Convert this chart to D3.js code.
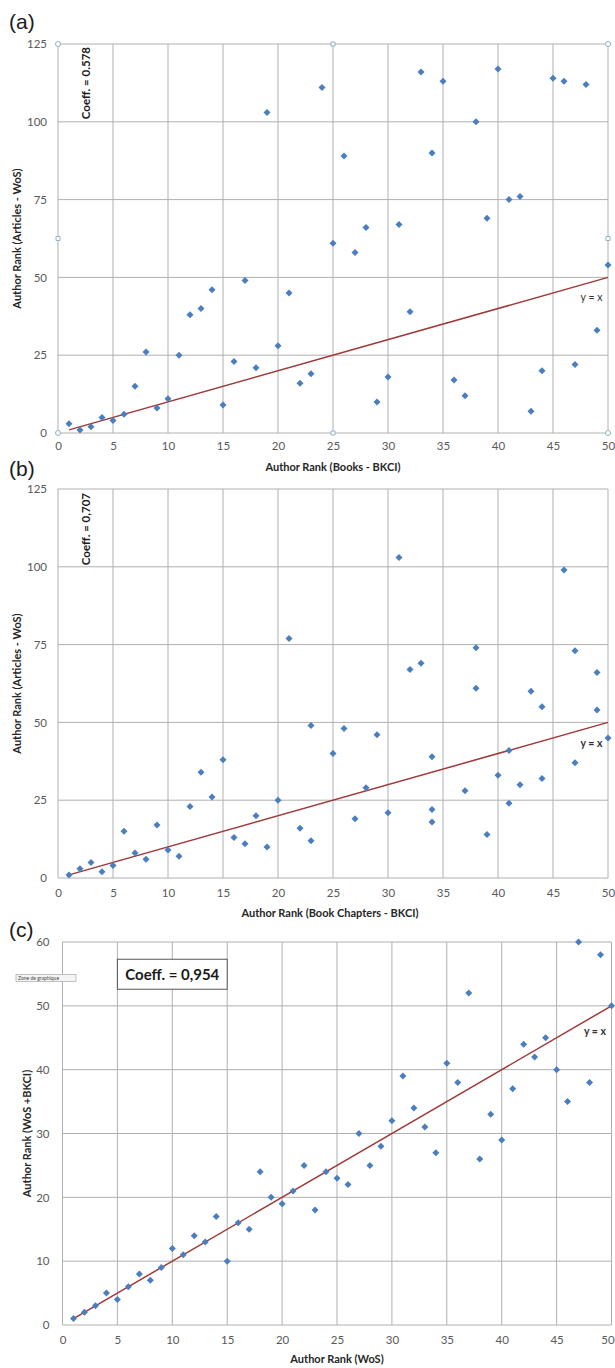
<!DOCTYPE html>
<html>
<head>
<meta charset="utf-8">
<script src="https://cdn.jsdelivr.net/npm/d3@7"></script>
<style>
  html, body { margin: 0; padding: 0; background: #fff; }
  svg { display: block; }
  text { font-family: Lato, "Open Sans", "DejaVu Sans", sans-serif; }
</style>
</head>
<body>
<svg id="chart" width="615" height="1368"></svg>
<script>
// ---------- data ----------
const xTicks = [0, 5, 10, 15, 20, 25, 30, 35, 40, 45, 50];
const yTicksAB = [0, 25, 50, 75, 100, 125];
const yTicksC = [0, 10, 20, 30, 40, 50, 60];

// Panel (a): Books - BKCI vs Articles - WoS
const aX = [1,2,3,4,5,6,7,8,9,10,11,12,13,14,15,16,17,18,19,20,21,22,23,24,25,26,27,28,29,30,31,32,33,34,35,36,37,38,39,40,41,42,43,44,45,46,47,48,49,50];
const aY = [3,1,2,5,4,6,15,26,8,11,25,38,40,46,9,23,49,21,103,28,45,16,19,111,61,89,58,66,10,18,67,39,116,90,113,17,12,100,69,117,75,76,7,20,114,113,22,112,33,54];

// Panel (b): Book Chapters - BKCI vs Articles - WoS
const bX = [1,2,3,4,5,6,7,8,9,10,11,12,13,14,15,16,17,18,19,20,21,22,23,23,25,26,27,28,29,30,31,32,33,34,34,34,37,38,38,39,40,41,41,42,43,44,44,46,47,47,49,49,50];
const bY = [1,3,5,2,4,15,8,6,17,9,7,23,34,26,38,13,11,20,10,25,77,16,12,49,40,48,19,29,46,21,103,67,69,39,22,18,28,61,74,14,33,41,24,30,60,55,32,99,37,73,66,54,45];

// Panel (c): WoS vs WoS + BKCI
const cX = [1,2,3,4,5,6,7,8,9,10,11,12,13,14,15,16,17,18,19,20,21,22,23,24,25,26,27,28,29,30,31,32,33,34,35,36,37,38,39,40,41,42,43,44,45,46,47,48,49,50];
const cY = [1,2,3,5,4,6,8,7,9,12,11,14,13,17,10,16,15,24,20,19,21,25,18,24,23,22,30,25,28,32,39,34,31,27,41,38,52,26,33,29,37,44,42,45,40,35,60,38,58,50];

const panelLabels = ["(a)", "(b)", "(c)"];
const xTitles = ["Author Rank (Books - BKCI)", "Author Rank (Book Chapters - BKCI)", "Author Rank (WoS)"];
const yTitles = ["Author Rank (Articles - WoS)", "Author Rank (Articles - WoS)", "Author Rank (WoS +BKCI)"];
const coeffTexts = ["Coeff. = 0.578", "Coeff. = 0,707", "Coeff. = 0,954"];
const lineLabel = "y = x";
const refLine = [1, 50];

// ---------- drawing ----------
const svg = d3.select("#chart");
const GRID = "#b0b0b0";
const TICK = "#595959";
const DOT = "#4a7ebf";
const LINE = "#9e3a38";

function diamond(cx, cy, r) {
  return `M${cx},${cy - r}L${cx + r},${cy}L${cx},${cy + r}L${cx - r},${cy}Z`;
}

function panel(cfg) {
  const g = svg.append("g");
  const x = d3.scaleLinear().domain([0, 50]).range([cfg.left, cfg.right]);
  const y = d3.scaleLinear().domain([0, cfg.yMax]).range([cfg.bottom, cfg.top]);

  // gridlines
  g.append("g").selectAll("line.v").data(xTicks).join("line")
    .attr("x1", d => x(d)).attr("x2", d => x(d))
    .attr("y1", cfg.top).attr("y2", cfg.bottom)
    .attr("stroke", GRID).attr("stroke-width", 1);
  g.append("g").selectAll("line.h").data(cfg.yTicks).join("line")
    .attr("y1", d => y(d)).attr("y2", d => y(d))
    .attr("x1", cfg.left).attr("x2", cfg.right)
    .attr("stroke", GRID).attr("stroke-width", 1);

  // tick labels via axes
  const xAxis = d3.axisBottom(x).tickValues(xTicks).tickSize(0).tickPadding(cfg.xPad);
  const gx = g.append("g").attr("transform", `translate(0,${cfg.bottom})`).call(xAxis);
  gx.select(".domain").remove();
  gx.selectAll("text").attr("fill", TICK).style("font-size", "11.5px").style("font-family", "Lato, sans-serif");
  // keep the last label inside the page edge
  gx.selectAll(".tick").filter(d => d === 50).select("text").attr("dx", cfg.lastDx);

  const yAxis = d3.axisLeft(y).tickValues(cfg.yTicks).tickSize(0).tickPadding(cfg.yPad);
  const gy = g.append("g").attr("transform", `translate(${cfg.left},0)`).call(yAxis);
  gy.select(".domain").remove();
  gy.selectAll("text").attr("fill", TICK).style("font-size", "11.5px").style("font-family", "Lato, sans-serif");

  // titles
  g.append("text").attr("x", (cfg.left + cfg.right) / 2 + cfg.xTitleDx).attr("y", cfg.xTitleY)
    .attr("text-anchor", "middle").attr("font-weight", "bold").attr("font-size", 11)
    .attr("fill", "#262626").text(cfg.xTitle);
  g.append("text")
    .attr("transform", `translate(${cfg.yTitleX},${(cfg.top + cfg.bottom) / 2}) rotate(-90)`)
    .attr("text-anchor", "middle").attr("font-weight", "bold").attr("font-size", 11)
    .attr("fill", "#262626").text(cfg.yTitle);

  // panel letter
  g.append("text").attr("x", 9).attr("y", cfg.labelY)
    .style("font-family", "'Liberation Sans', Arial, sans-serif")
    .attr("font-size", 21).attr("fill", "#1a1a1a").text(cfg.label);

  // reference line y = x
  g.append("line")
    .attr("x1", x(refLine[0])).attr("y1", y(refLine[0]))
    .attr("x2", x(refLine[1])).attr("y2", y(refLine[1]))
    .attr("stroke", LINE).attr("stroke-width", 1.5);

  // points
  g.append("g").selectAll("path").data(cfg.xs.map((v, i) => [v, cfg.ys[i]])).join("path")
    .attr("d", d => diamond(x(d[0]), y(d[1]), 3.5))
    .attr("fill", DOT);

  // y = x label
  g.append("text").attr("x", x(48.5)).attr("y", y(cfg.lineLabelY))
    .attr("text-anchor", "middle").attr("font-size", 10.5).attr("font-weight", cfg.lineLabelBold ? "bold" : "normal")
    .attr("fill", "#333").text(lineLabel);

  return { g, x, y };
}

// Panel (a)
const pa = panel({ left: 58, right: 608, top: 44, bottom: 433, yMax: 125, yTicks: yTicksAB,
  xs: aX, ys: aY, xTitle: xTitles[0], yTitle: yTitles[0], label: panelLabels[0], labelY: 29,
  xTitleY: 471, xTitleDx: 0, yTitleX: 21, xPad: 9, yPad: 11, lineLabelY: 42.5, lineLabelBold: false, lastDx: 0 });
// Coeff (a), rotated
pa.g.append("text").attr("transform", `translate(${89.5},${47}) rotate(-90)`)
  .attr("text-anchor", "end").attr("font-weight", "bold").attr("font-size", 11.5)
  .attr("fill", "#1a1a1a").text(coeffTexts[0]);
// selection handles (a)
const handles = [[0, 0, "c"], [50, 0, "c"], [0, 125, "c"], [50, 125, "c"], [25, 0, "s"], [25, 125, "s"], [0, 62.5, "s"], [50, 62.5, "s"]];
pa.g.append("g").selectAll("path").data(handles).join("path")
  .attr("d", d => {
    const cx = pa.x(d[0]), cy = pa.y(d[1]);
    return d[2] === "c"
      ? `M${cx - 2.5},${cy}a2.5,2.5 0 1,0 5,0a2.5,2.5 0 1,0 -5,0`
      : `M${cx - 2},${cy - 2}h4v4h-4Z`;
  })
  .attr("fill", "#fff").attr("stroke", "#8fb4c4").attr("stroke-width", 1);

// Panel (b)
const pb = panel({ left: 58, right: 608, top: 489, bottom: 878, yMax: 125, yTicks: yTicksAB,
  xs: bX, ys: bY, xTitle: xTitles[1], yTitle: yTitles[1], label: panelLabels[1], labelY: 476,
  xTitleY: 917, xTitleDx: -3, yTitleX: 21, xPad: 11, yPad: 11, lineLabelY: 42, lineLabelBold: true, lastDx: 0 });
pb.g.append("text").attr("transform", `translate(${89.5},${493}) rotate(-90)`)
  .attr("text-anchor", "end").attr("font-weight", "bold").attr("font-size", 11.5)
  .attr("fill", "#1a1a1a").text(coeffTexts[1]);

// Panel (c)
const pc = panel({ left: 62.5, right: 611.5, top: 942, bottom: 1325, yMax: 60, yTicks: yTicksC,
  xs: cX, ys: cY, xTitle: xTitles[2], yTitle: yTitles[2], label: panelLabels[2], labelY: 937,
  xTitleY: 1363, xTitleDx: 0, yTitleX: 31, xPad: 11, yPad: 13, lineLabelY: 45.5, lineLabelBold: true, lastDx: -4 });
// Coeff box (c)
const cb = pc.g.append("g");
cb.append("rect").attr("x", pc.x(5)).attr("y", pc.y(57.3)).attr("width", pc.x(15) - pc.x(5)).attr("height", pc.y(52.6) - pc.y(57.3))
  .attr("fill", "#fff").attr("stroke", "#555").attr("stroke-width", 1);
cb.append("text").attr("x", pc.x(10)).attr("y", pc.y(54.1))
  .attr("text-anchor", "middle").attr("font-weight", "bold").attr("font-size", 15)
  .attr("fill", "#1a1a1a").text(coeffTexts[2]);
// "Zone de graphique" tooltip
const tip = svg.append("g");
tip.append("rect").attr("x", 16).attr("y", 974.5).attr("width", 60).attr("height", 7)
  .attr("fill", "#f4f4f4").attr("stroke", "#9a9a9a").attr("stroke-width", 0.6);
tip.append("text").attr("x", 18).attr("y", 980).attr("font-size", 5).attr("fill", "#444").text("Zone de graphique");
</script>
</body>
</html>
